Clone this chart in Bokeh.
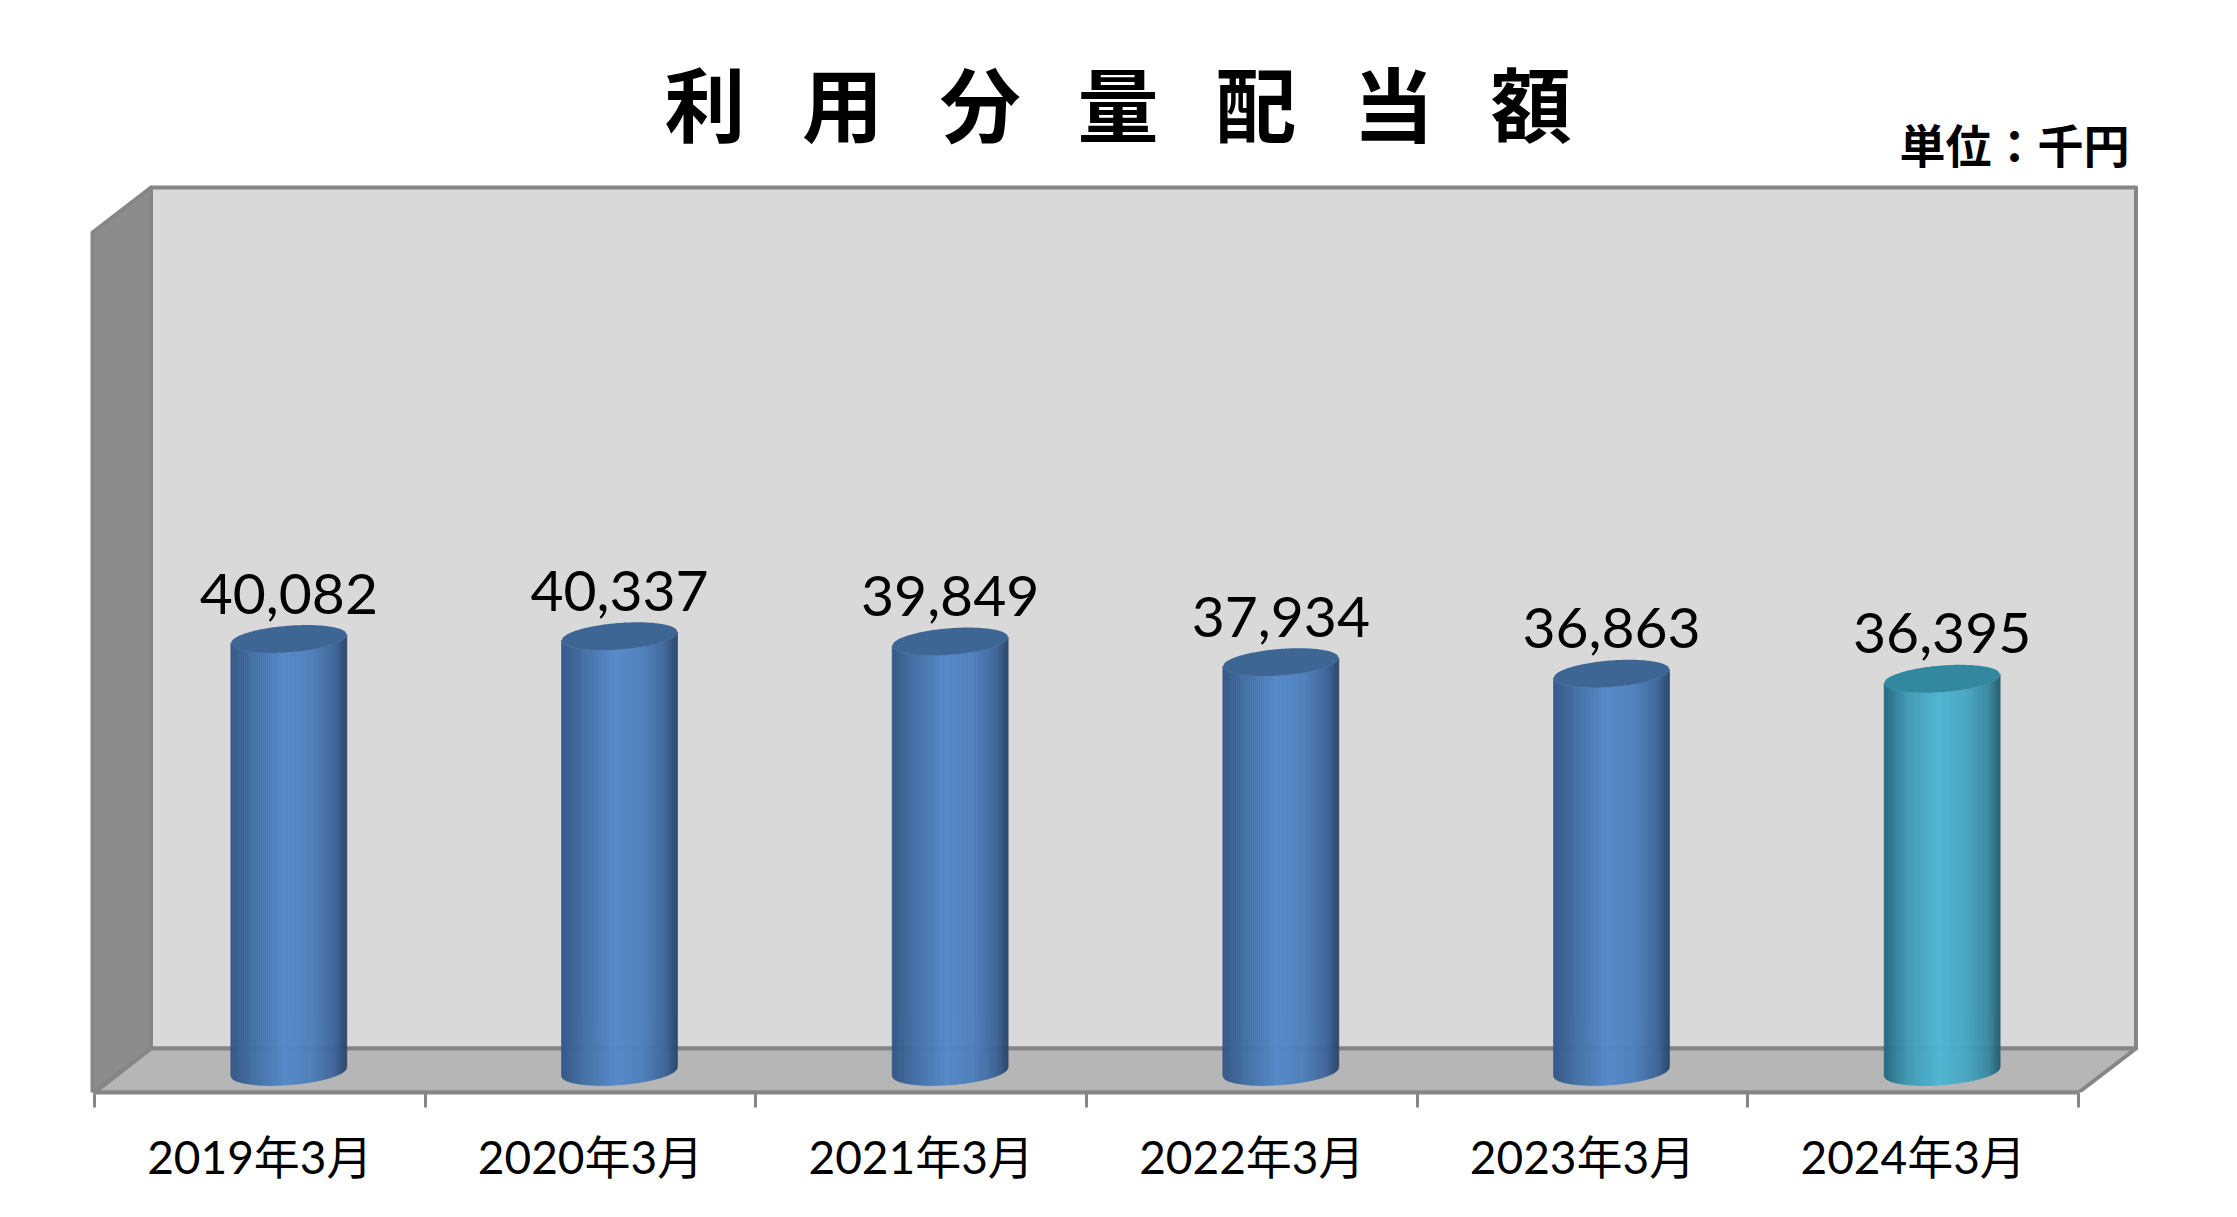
import numpy as np
from bokeh.plotting import figure
from bokeh.embed import file_html
from bokeh.resources import INLINE
from bokeh.core.properties import value
from bokeh.models import FixedTicker

categories = ["2019年3月", "2020年3月", "2021年3月", "2022年3月", "2023年3月", "2024年3月"]
amounts = [40082, 40337, 39849, 37934, 36863, 36395]
title_text = "利\u2002\u2009用\u2002\u2009分\u2002\u2009量\u2002\u2009配\u2002\u2009当\u2002\u2009額"
unit_text = "単位：千円"

# layout (page pixels)
ORIGIN = 0
W, H = 2221, 1201
FRONT_L, FRONT_R, FRONT_Y = 94.0, 2078.0, 1092.0
BACK_L, BACK_R, BACK_T, BACK_B = 150.5, 2135.5, 187.0, 1048.0
BASE_Y = 1071.0
PX_CAT = (FRONT_R - FRONT_L) / len(categories)
PX_VAL = 432.5 / 40082
DEPTH_SHIFT = 29.0
HALF_W = 58.0
KSLOPE = 0.074
BHALF = 13.3
LABEL_RAISE = 45.5

def X(px): return (px - FRONT_L) / PX_CAT
def Y(py): return (BASE_Y - py) / PX_VAL

p = figure(width=W, height=H, output_backend="svg", toolbar_location=None,
           x_range=(X(ORIGIN), X(ORIGIN + W)), y_range=(Y(FRONT_Y), Y(ORIGIN)),
           min_border_left=0, min_border_right=0, min_border_top=0,
           min_border_bottom=int(ORIGIN + H - FRONT_Y))
p.outline_line_color = None
p.grid.visible = False
p.yaxis.visible = False
p.background_fill_color = "white"

BORDER = "#868686"
# back wall, side wall, floor
p.patch([X(v) for v in (BACK_L, BACK_R, BACK_R, BACK_L)], [Y(v) for v in (BACK_T, BACK_T, BACK_B, BACK_B)],
        fill_color="#d9d9d9", line_color=BORDER, line_width=4, line_join="round")
p.patch([X(v) for v in (92, BACK_L, BACK_L, 92)], [Y(v) for v in (232, BACK_T, BACK_B, FRONT_Y)],
        fill_color="#8c8c8c", line_color=BORDER, line_width=4, line_join="round")
p.patch([X(v) for v in (FRONT_L, BACK_L, BACK_R, FRONT_R)], [Y(v) for v in (FRONT_Y, BACK_B, BACK_B, FRONT_Y)],
        fill_color="#b6b6b6", line_color=BORDER, line_width=4, line_join="round")

# x axis: ticks at the category edges, labels at the centres
n = len(categories)
ax = p.xaxis[0]
ax.ticker = FixedTicker(ticks=[i + 0.5 for i in range(n)], minor_ticks=list(range(n + 1)))
ax.major_label_overrides = {i + 0.5: c for i, c in enumerate(categories)}
ax.bounds = (0, n)
ax.axis_line_color = BORDER
ax.axis_line_width = 4
ax.major_tick_line_color = None
ax.major_tick_out = 0
ax.major_tick_in = 0
ax.minor_tick_line_color = BORDER
ax.minor_tick_line_width = 3
ax.minor_tick_out = 15
ax.minor_tick_in = 0
ax.major_label_standoff = 21
ax.major_label_text_font = "Lato, 'Noto Sans CJK JP'"
ax.major_label_text_font_size = "46px"
ax.major_label_text_color = "#000000"
ax.major_label_orientation = "horizontal"

STOPS = [0.0, 0.2, 0.47, 0.7, 0.9, 1.0]
BLUE = ["#345785", "#4370a6", "#5589ca", "#4f80bc", "#3e6598", "#2a466b"]
TEAL = ["#256a80", "#3f9ab3", "#4fb6d4", "#49a8c4", "#3b8aa2", "#255f73"]
TOP_BLUE, TOP_TEAL = "#3e6695", "#31889f"

def hex_rgb(h): return [int(h[i:i + 2], 16) for i in (1, 3, 5)]
def ramp(cols, t):
    arr = np.array([hex_rgb(c) for c in cols], float)
    return "#%02x%02x%02x" % tuple(int(round(np.interp(t, STOPS, arr[:, k]))) for k in range(3))

STRIPS = 58
edges = np.linspace(-HALF_W, HALF_W, STRIPS + 1)

def arc(u, cy, sign):
    return cy - KSLOPE * u + sign * BHALF * np.sqrt(np.clip(1 - (u / HALF_W) ** 2, 0, 1))

for i, v in enumerate(amounts):
    cols = TEAL if i == n - 1 else BLUE
    cen = i + 0.5 + DEPTH_SHIFT / PX_CAT
    top_py = BASE_Y - v * PX_VAL
    xs, ys, fills = [], [], []
    for j in range(STRIPS):
        u = np.linspace(edges[j], edges[j + 1], 3)
        top = arc(u, top_py, 1)
        bot = arc(u, BASE_Y, 1)
        xs.append(list(cen + np.r_[u, u[::-1]] / PX_CAT))
        ys.append(list((BASE_Y - np.r_[bot, top[::-1]]) / PX_VAL))
        fills.append(ramp(cols, (j + 0.5) / STRIPS))
    p.patches(xs, ys, fill_color=fills, line_color=fills, line_width=0.6)
    u = np.linspace(-HALF_W, HALF_W, 80)
    p.patch(list(cen + np.r_[u, u[::-1]] / PX_CAT),
            list((BASE_Y - np.r_[arc(u, top_py, -1), arc(u[::-1], top_py, 1)]) / PX_VAL),
            fill_color=TOP_TEAL if i == n - 1 else TOP_BLUE, line_color=None)
    p.text([cen], [v + LABEL_RAISE / PX_VAL], text=[f"{v:,}"], text_font=value("Lato"), text_font_size="57px",
           text_align="center", text_baseline="alphabetic", text_color="#000000")

p.text([X(1117.5)], [Y(100)], text=[title_text], text_font=value("Noto Sans CJK JP"), text_font_size="81px",
       text_font_style="bold", text_align="center", text_baseline="middle", text_color="#000000")
p.text([X(2129)], [Y(142)], text=[unit_text], text_font=value("Noto Sans CJK JP"), text_font_size="46px",
       text_font_style="bold", text_align="right", text_baseline="middle", text_color="#000000")

open("out.html", "w").write(file_html(p, INLINE))
